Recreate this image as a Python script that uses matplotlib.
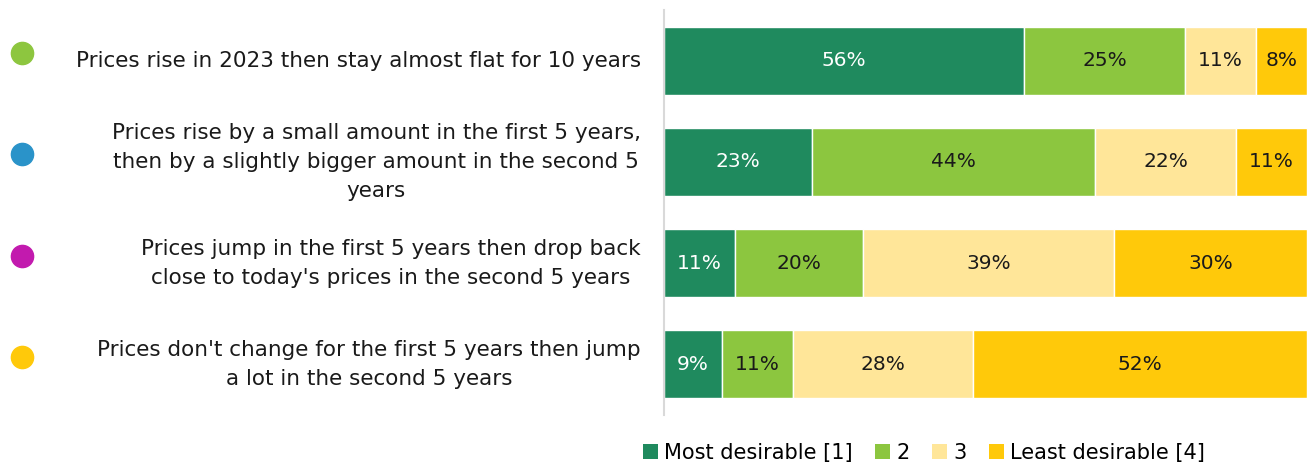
import matplotlib
matplotlib.use("Agg")
import matplotlib.pyplot as plt
from matplotlib.patches import Patch

plt.rcParams['font.family'] = ['DejaVu Sans']

scenarios = [
    "Prices rise in 2023 then stay almost flat for 10 years",
    "Prices rise by a small amount in the first 5 years,\nthen by a slightly bigger amount in the second 5\nyears",
    "Prices jump in the first 5 years then drop back\nclose to today's prices in the second 5 years",
    "Prices don't change for the first 5 years then jump\na lot in the second 5 years",
]
dot_colors = ["#8DC63F", "#2A93C9", "#C21AAE", "#FFC90A"]

ranks = ["Most desirable [1]", "2", "3", "Least desirable [4]"]
rank_colors = ["#1F8A5E", "#8CC63F", "#FFE699", "#FFC90A"]
rank_text = ["white", "#1a1a1a", "#1a1a1a", "#1a1a1a"]

most = [56, 23, 11, 9]
second = [25, 44, 20, 11]
third = [11, 22, 39, 28]
least = [8, 11, 30, 52]
values = [most, second, third, least]

fig = plt.figure(figsize=(13.07, 4.66), dpi=100)
ax = fig.add_axes([664 / 1307, 51 / 466, 643 / 1307, 405 / 466])

ypos = list(range(len(scenarios)))
left = [0] * len(scenarios)
for vals, col, tcol in zip(values, rank_colors, rank_text):
    ax.barh(ypos, vals, left=left, height=0.67, color=col,
            edgecolor="white", linewidth=1)
    for y, v, l in zip(ypos, vals, left):
        ax.text(l + v / 2, y, f"{v}%", ha="center", va="center",
                color=tcol, fontsize=14.5)
    left = [a + b for a, b in zip(left, vals)]

ax.set_xlim(0, 100)
ax.set_ylim(len(scenarios) - 0.5, -0.5)
ax.set_xticks([])
ax.set_yticks([])
for side in ["top", "right", "bottom"]:
    ax.spines[side].set_visible(False)
ax.spines["left"].set_color("#d9d9d9")
ax.spines["left"].set_linewidth(1.5)

tr = ax.get_yaxis_transform()
for y, label, dc in zip(ypos, scenarios, dot_colors):
    ax.text(-0.036, y, label, transform=tr, ha="right", va="center",
            multialignment="center", fontsize=15.5, color="#1a1a1a",
            linespacing=1.55)
    ax.plot([-0.998], [y - 0.075], marker="o", markersize=16, color=dc,
            transform=tr, clip_on=False)

handles = [Patch(facecolor=c, edgecolor="none") for c in rank_colors]
fig.legend(handles, ranks, loc="center", bbox_to_anchor=(924 / 1307, 13 / 466),
           ncol=4, frameon=False, fontsize=15, handlelength=0.7,
           handleheight=0.7, handletextpad=0.3, columnspacing=1.1)

fig.savefig("out.png", dpi=100)
